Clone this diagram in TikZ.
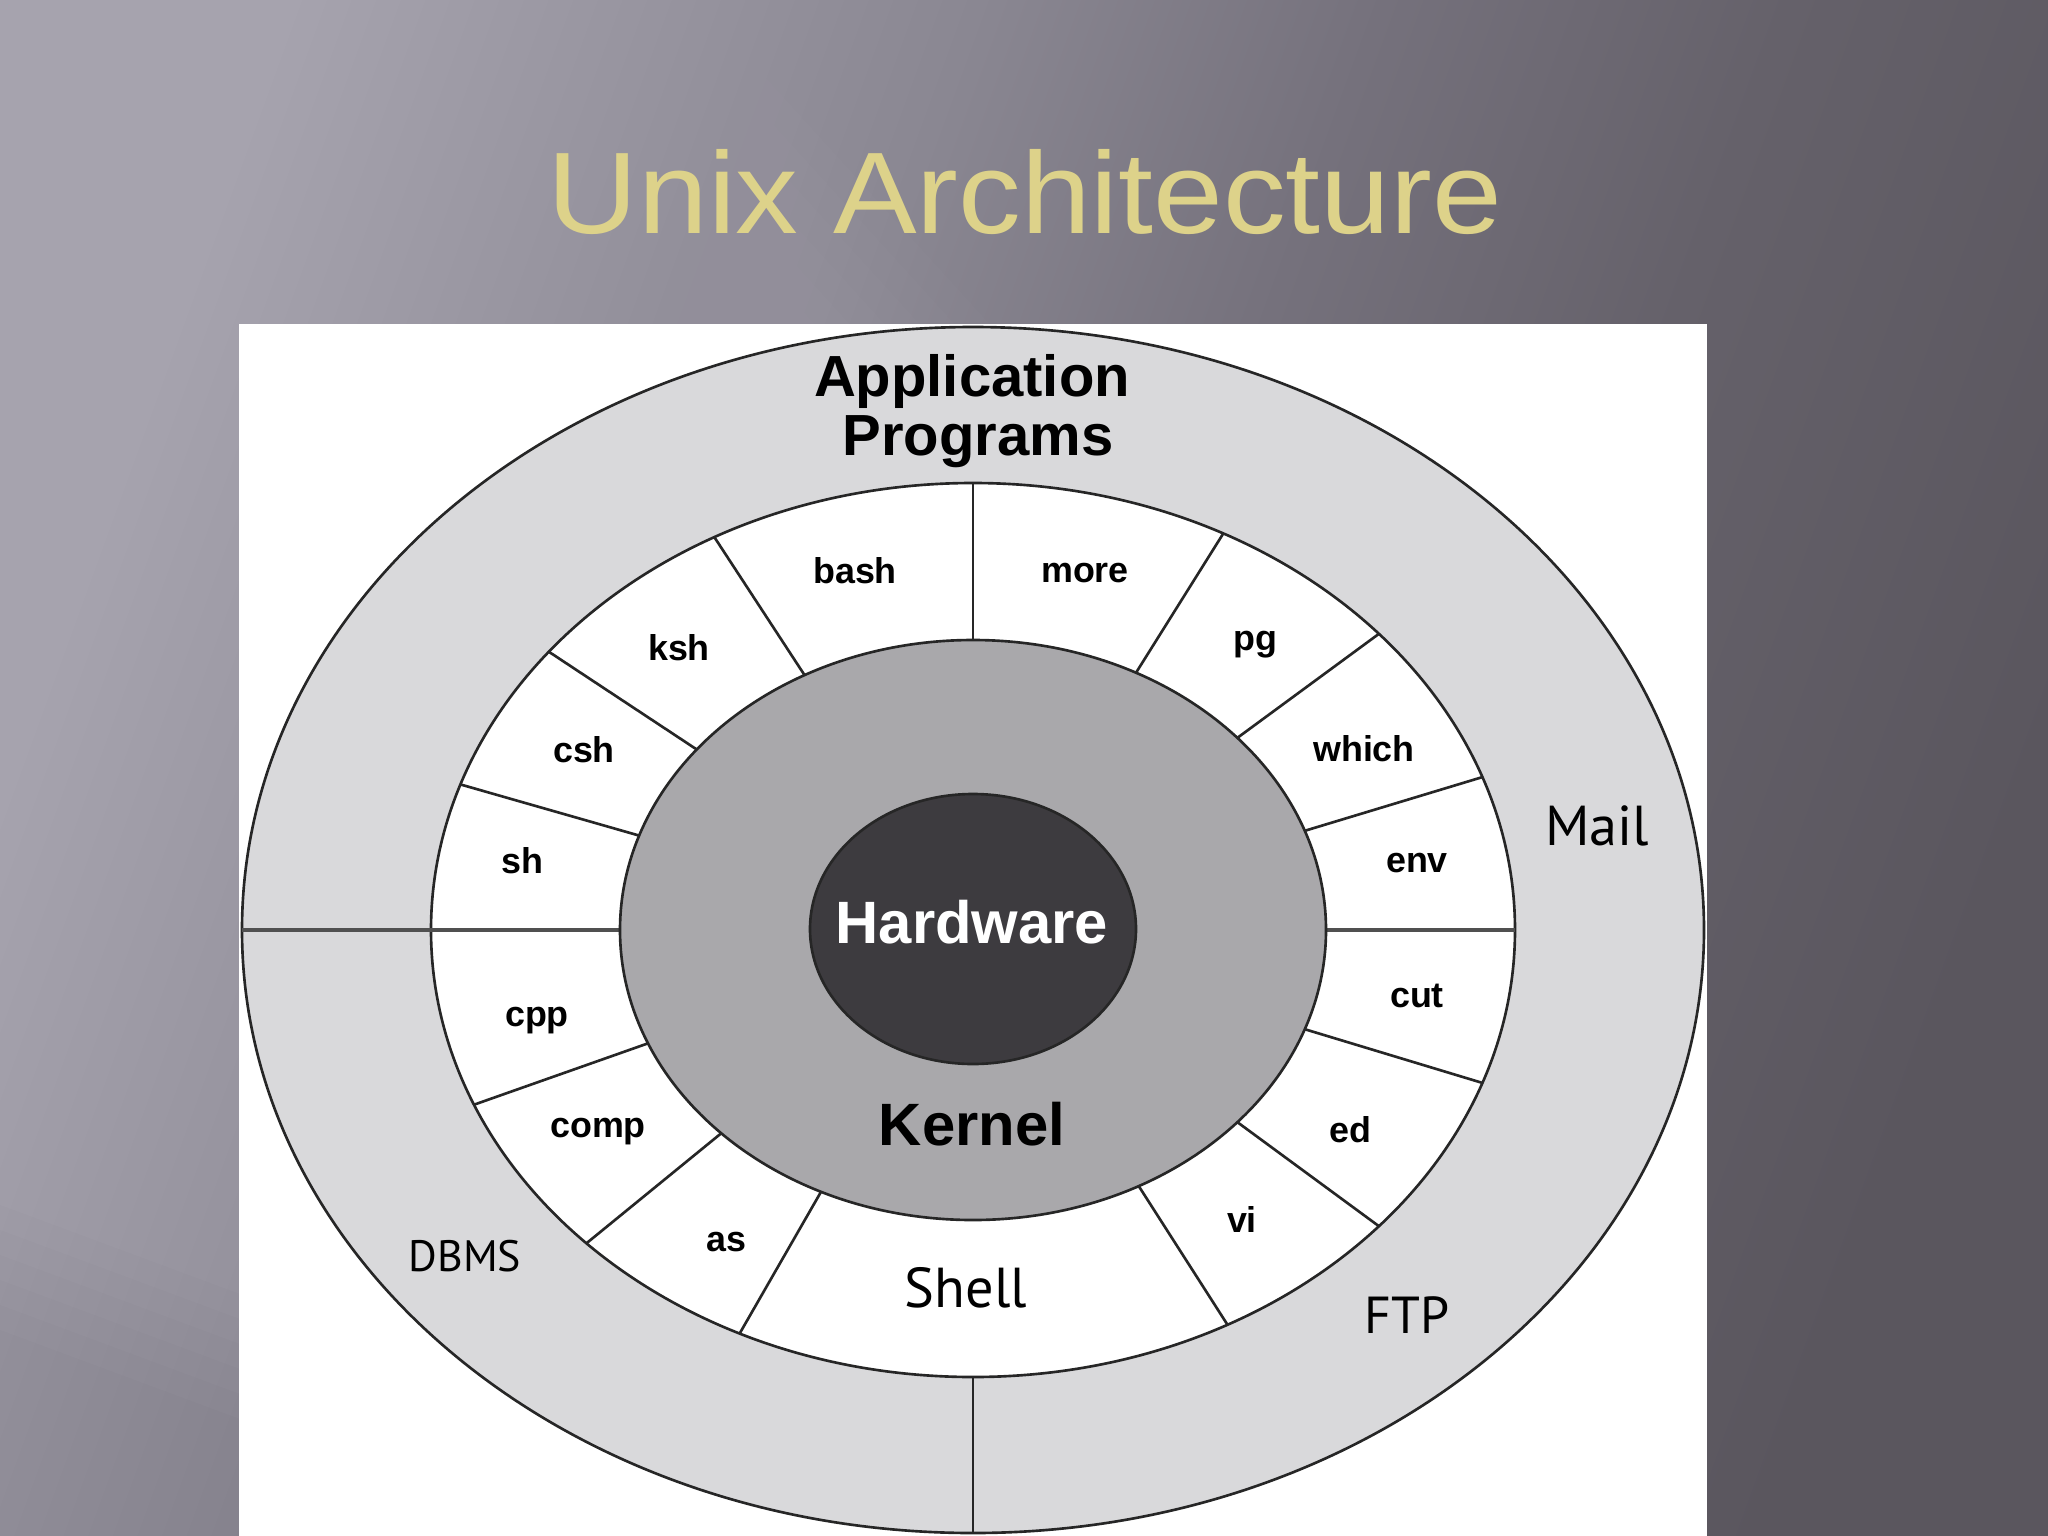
\documentclass[tikz,border=0pt]{standalone}
\usepackage{fontspec}
\setmainfont{Liberation Sans}
\newfontfamily\humsans{PT Sans}
\usetikzlibrary{calc}
\definecolor{bgA}{HTML}{A6A3AE}
\definecolor{bgB}{HTML}{8A8792}
\definecolor{bgC}{HTML}{75717C}
\definecolor{bgD}{HTML}{65616A}
\definecolor{bgE}{HTML}{5A565E}
\definecolor{glowcol}{HTML}{E6E2EE}
\definecolor{ringgray}{HTML}{D9D9DB}
\definecolor{kernelgray}{HTML}{A9A8AB}
\definecolor{hwgray}{HTML}{3D3B3F}
\definecolor{linecol}{HTML}{262626}
\definecolor{hdivcol}{HTML}{505050}
\definecolor{titlegold}{HTML}{DDD28A}
\pgfdeclarehorizontalshading{bgshade}{100bp}{color(0bp)=(bgA); color(25bp)=(bgA); color(42bp)=(bgB); color(52bp)=(bgC); color(62bp)=(bgD); color(75bp)=(bgE); color(100bp)=(bgE)}
\begin{document}
\begin{tikzpicture}[x=0.01cm,y=-0.01cm,
  ringline/.style={draw=linecol, line width=0.75pt},
  divider/.style={draw=linecol, line width=0.75pt},
  hdivider/.style={draw=hdivcol, line width=1pt},
  lbl/.style={font=\fontsize{10.2pt}{12pt}\selectfont\bfseries, text=black, inner sep=0pt},
  biglbl/.style={font=\fontsize{16.5pt}{19pt}\selectfont\bfseries, inner sep=0pt},
  humlbl/.style={font=\humsans\fontsize{#1}{#1}\selectfont, text=black, inner sep=0pt},
  glow/.style={fill=glowcol, opacity=#1}
]
\useasboundingbox (0,0) rectangle (2048,1536);
\clip (0,0) rectangle (2048,1536);
% background
\shade[shading=bgshade, shading angle=-20] (0,0) rectangle (2048,1536);
% soft light area top-left (stacked thin layers give soft edges)
\foreach \k in {0,...,9}{
  \fill[glow=0.011] (0,0) -- ({380+35*\k},0) -- ({680+35*\k},330) -- (0,{330+12*\k}) -- cycle;
}
% soft diagonal streaks on the left
\foreach \yc/\a in {365/0.010, 790/0.012, 995/0.010, 1095/0.009}{
  \foreach \k in {1,...,8}{
    \fill[glow=\a] (0,{\yc-4*\k}) -- (700,{\yc+260-4*\k}) -- (700,{\yc+260+4*\k}) -- (0,{\yc+4*\k}) -- cycle;
  }
}
\foreach \k in {1,...,6}{
  \fill[black, opacity=0.012] (0,{1180+25*\k}) -- (700,{1440+25*\k}) -- (700,1536) -- (0,1536) -- cycle;
}
% title
\node[font=\fontsize{33pt}{36pt}\selectfont, text=titlegold, anchor=base, inner sep=0pt] (title) at (1025,233) {\scalebox{1.08}[1]{Unix Architecture}};
% white panel
\fill[white] (239,324) rectangle (1707,1536);
% rings
\path[ringline, fill=ringgray] (973,930) ellipse [x radius=731, y radius=603];
\path[ringline, fill=white] (973,930) ellipse [x radius=542, y radius=447];
% shell ring dividers
\foreach \t in {118.5,90,62.5,41.5,20,-20,-41.5,-62,-115.5,-135.5,-157,161,141.5}{
  \draw[divider] ({973+353*cos(\t)},{930-290*sin(\t)}) -- ({973+542*cos(\t)},{930-447*sin(\t)});
}
\draw[hdivider] (1326,930) -- (1515,930);
\draw[hdivider] (242,930) -- (620,930);
\draw[divider] (973,1377) -- (973,1533);
% kernel and hardware
\path[ringline, fill=kernelgray] (973,930) ellipse [x radius=353, y radius=290];
\path[ringline, fill=hwgray] (973,929) ellipse [x radius=163, y radius=135];
% big labels
\node[biglbl, anchor=base] (app) at (972,396) {Application};
\node[biglbl, anchor=base] (prog) at (978,455) {Programs};
\node[biglbl, anchor=base, text=white, font=\fontsize{17pt}{19pt}\selectfont\bfseries] (hw) at (972,943) {Hardware};
\node[biglbl, anchor=base, font=\fontsize{17pt}{19pt}\selectfont\bfseries] (kernel) at (972,1145) {Kernel};
\node[humlbl=16pt, anchor=base] (shell) at (966,1307) {Shell};
\node[humlbl=16pt, anchor=base] (mail) at (1597,845) {Mail};
\node[humlbl=12.5pt, anchor=base] (dbms) at (465,1271) {DBMS};
\node[humlbl=14.8pt, anchor=base] (ftp) at (1407,1333) {FTP};
% small labels
\node[lbl] (bash) at (855,571) {bash};
\node[lbl] (more) at (1085,573) {more};
\node[lbl] (ksh) at (679,648) {ksh};
\node[lbl] (pg) at (1255,645) {pg};
\node[lbl] (csh) at (584,750) {csh};
\node[lbl] (which) at (1364,749) {which};
\node[lbl] (sh) at (522,861) {sh};
\node[lbl] (env) at (1417,863) {env};
\node[lbl] (cpp) at (537,1021) {cpp};
\node[lbl] (cut) at (1417,996) {cut};
\node[lbl] (comp) at (598,1132) {comp};
\node[lbl] (ed) at (1350,1130) {ed};
\node[lbl] (as) at (726,1242) {as};
\node[lbl] (vi) at (1242,1219) {vi};
\end{tikzpicture}
\end{document}
